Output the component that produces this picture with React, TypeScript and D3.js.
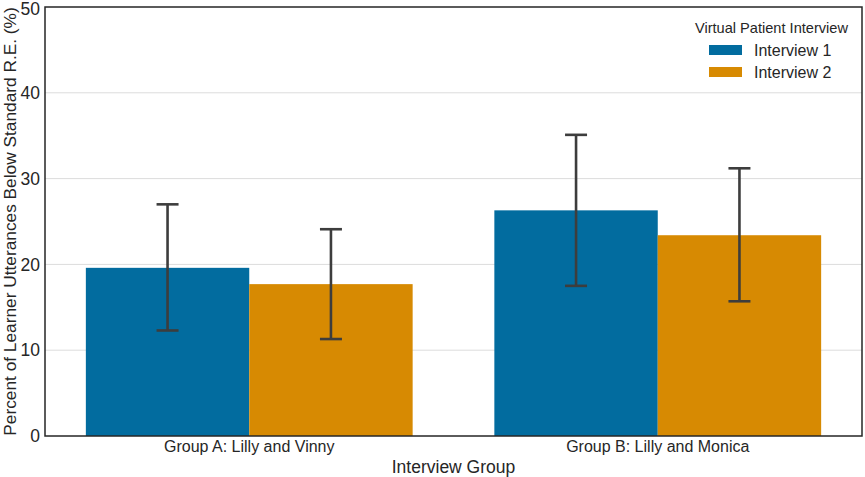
import { useEffect, useRef } from 'react';
import * as d3 from 'd3';

const groups = ['Group A: Lilly and Vinny', 'Group B: Lilly and Monica'];
const interviews = ['Interview 1', 'Interview 2'];
const colors = ['#026c9f', '#d78a02'];
// mean and CI bounds per group, per interview
const means = [
  [19.6, 17.7],
  [26.3, 23.4],
];
const lows = [
  [12.3, 11.3],
  [17.5, 15.7],
];
const highs = [
  [27.0, 24.1],
  [35.1, 31.2],
];
const yTicks = [0, 10, 20, 30, 40, 50];

const W = 865;
const H = 477;

export default function App() {
  const ref = useRef<SVGSVGElement>(null);

  useEffect(() => {
    if (!ref.current) return;
    const svg = d3.select(ref.current);
    svg.selectAll('*').remove();

    const margin = { top: 7, right: 3, bottom: 41, left: 45 };
    const innerW = W - margin.left - margin.right;
    const innerH = H - margin.top - margin.bottom;
    const font = 'Liberation Sans, Arial, sans-serif';

    const g = svg
      .append('g')
      .attr('transform', `translate(${margin.left},${margin.top})`);

    const x = d3
      .scaleBand<string>()
      .domain(groups)
      .range([0, innerW])
      .paddingInner(0.2)
      .paddingOuter(0.1);
    const xi = d3
      .scaleBand<string>()
      .domain(interviews)
      .range([0, x.bandwidth()]);
    const y = d3.scaleLinear().domain([0, 50]).range([innerH, 0]);

    // grid
    g.append('g')
      .selectAll('line')
      .data(yTicks.filter((t) => t > 0 && t < 50))
      .join('line')
      .attr('x1', 0)
      .attr('x2', innerW)
      .attr('y1', (d) => y(d))
      .attr('y2', (d) => y(d))
      .attr('stroke', '#dcdcdc')
      .attr('stroke-width', 1);

    // bars
    groups.forEach((grp, gi) => {
      const gg = g.append('g').attr('transform', `translate(${x(grp)},0)`);
      interviews.forEach((iv, ii) => {
        gg.append('rect')
          .attr('x', xi(iv)!)
          .attr('y', y(means[gi][ii]))
          .attr('width', xi.bandwidth())
          .attr('height', innerH - y(means[gi][ii]))
          .attr('fill', colors[ii]);
      });
      interviews.forEach((iv, ii) => {
        const cx = xi(iv)! + xi.bandwidth() / 2;
        const cap = 11;
        const eb = gg.append('g').attr('stroke', '#3d3d3d').attr('stroke-width', 2.6);
        eb.append('line')
          .attr('x1', cx)
          .attr('x2', cx)
          .attr('y1', y(lows[gi][ii]))
          .attr('y2', y(highs[gi][ii]));
        [lows[gi][ii], highs[gi][ii]].forEach((v) => {
          eb.append('line')
            .attr('x1', cx - cap)
            .attr('x2', cx + cap)
            .attr('y1', y(v))
            .attr('y2', y(v));
        });
      });
    });

    // frame
    g.append('rect')
      .attr('width', innerW)
      .attr('height', innerH)
      .attr('fill', 'none')
      .attr('stroke', '#262626')
      .attr('stroke-width', 1.5);

    // y tick labels (top one nudged down a touch so it stays inside the page)
    g.append('g')
      .selectAll('text')
      .data(yTicks)
      .join('text')
      .attr('x', -5)
      .attr('y', (d) => y(d) + (d === 50 ? 1.5 : 0))
      .attr('dy', '0.35em')
      .attr('text-anchor', 'end')
      .attr('font-family', font)
      .attr('font-size', 17.5)
      .attr('fill', '#262626')
      .text((d) => d);

    // x tick labels
    g.append('g')
      .selectAll('text')
      .data(groups)
      .join('text')
      .attr('x', (d) => x(d)! + x.bandwidth() / 2)
      .attr('y', innerH + 16)
      .attr('text-anchor', 'middle')
      .attr('font-family', font)
      .attr('font-size', 16)
      .attr('fill', '#262626')
      .text((d) => d);

    // axis titles
    g.append('text')
      .attr('x', innerW / 2)
      .attr('y', innerH + 37)
      .attr('text-anchor', 'middle')
      .attr('font-family', font)
      .attr('font-size', 17.5)
      .attr('fill', '#262626')
      .text('Interview Group');
    g.append('text')
      .attr('transform', `translate(${-29},${innerH / 2}) rotate(-90)`)
      .attr('text-anchor', 'middle')
      .attr('font-family', font)
      .attr('font-size', 17.3)
      .attr('fill', '#262626')
      .text('Percent of Learner Utterances Below Standard R.E. (%)');

    // legend
    const lg = svg.append('g').attr('transform', 'translate(709,0)');
    lg.append('text')
      .attr('x', 139)
      .attr('y', 33)
      .attr('text-anchor', 'end')
      .attr('font-family', font)
      .attr('font-size', 14.6)
      .attr('fill', '#262626')
      .text('Virtual Patient Interview');
    interviews.forEach((iv, ii) => {
      const ly = 45 + ii * 22;
      lg.append('rect')
        .attr('x', 0)
        .attr('y', ly)
        .attr('width', 33)
        .attr('height', 10)
        .attr('fill', colors[ii]);
      lg.append('text')
        .attr('x', 45)
        .attr('y', ly + 5)
        .attr('dy', '0.35em')
        .attr('font-family', font)
        .attr('font-size', 16)
        .attr('fill', '#262626')
        .text(iv);
    });
  }, []);

  return (
    <svg
      ref={ref}
      width={W}
      height={H}
      style={{ position: 'absolute', left: 0, top: 0, background: '#fff' }}
    />
  );
}
